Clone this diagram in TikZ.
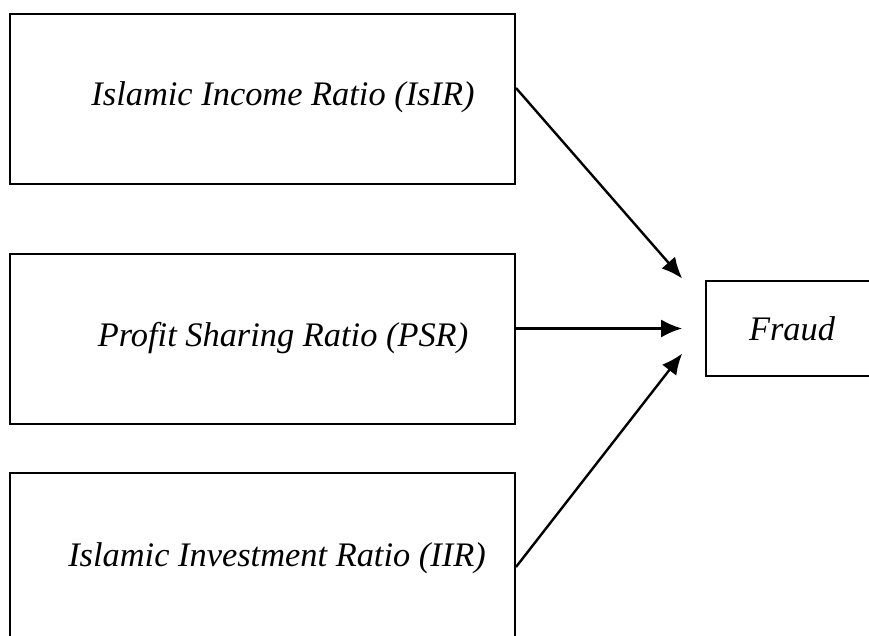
\documentclass[tikz,border=0pt]{standalone}
\usepackage{fontspec}
\setmainfont{Liberation Serif}
\usetikzlibrary{arrows.meta,calc}

\tikzstyle{factor} = [draw, line width=1pt, minimum width=252.5pt, minimum height=85pt, inner sep=0pt]
\tikzstyle{outcome} = [draw, line width=0.8pt, minimum width=86pt, minimum height=47.5pt, inner sep=0pt, font=\fontsize{17.2}{20}\selectfont\itshape]
\tikzstyle{factortext} = [inner sep=0pt, font=\fontsize{17.2}{20}\selectfont\itshape]
\tikzstyle{effect} = [-{Latex[length=10.5pt,width=9pt]}, line width=1.2pt]

\begin{document}
\begin{tikzpicture}[x=0.5pt,y=-0.5pt]
      \useasboundingbox (0,0) rectangle (869,636);
      \clip (0,0) rectangle (869,636);
      \node[factor] (isir) at (262.5,99) {};
      \node[factor] (psr) at (262.5,339.5) {};
      \node[factor] (iir) at (262.5,558) {};
      \node[outcome] (fraud) at (792,328.5) {Fraud};
      \node[factortext] (isirtext) at (283,97) {Islamic Income Ratio (IsIR)};
      \node[factortext] (psrtext) at (283,338) {Profit Sharing Ratio (PSR)};
      \node[factortext] (iirtext) at (277,558) {Islamic Investment Ratio (IIR)};
      \coordinate (1) at ($(isir.east)+(0,-11)$);
      \coordinate (2) at ($(psr.east)+(0,-11)$);
      \coordinate (3) at ($(iir.east)+(0,9)$);
      \coordinate (4) at ($(fraud.west)+(-23,-50)$);
      \coordinate (5) at ($(fraud.west)+(-23,0)$);
      \coordinate (6) at ($(fraud.west)+(-23,25)$);
      \draw[effect] (1) -- (4);
      \draw[effect] (2) -- (5);
      \draw[effect] (3) -- (6);
    \end{tikzpicture}
\end{document}
